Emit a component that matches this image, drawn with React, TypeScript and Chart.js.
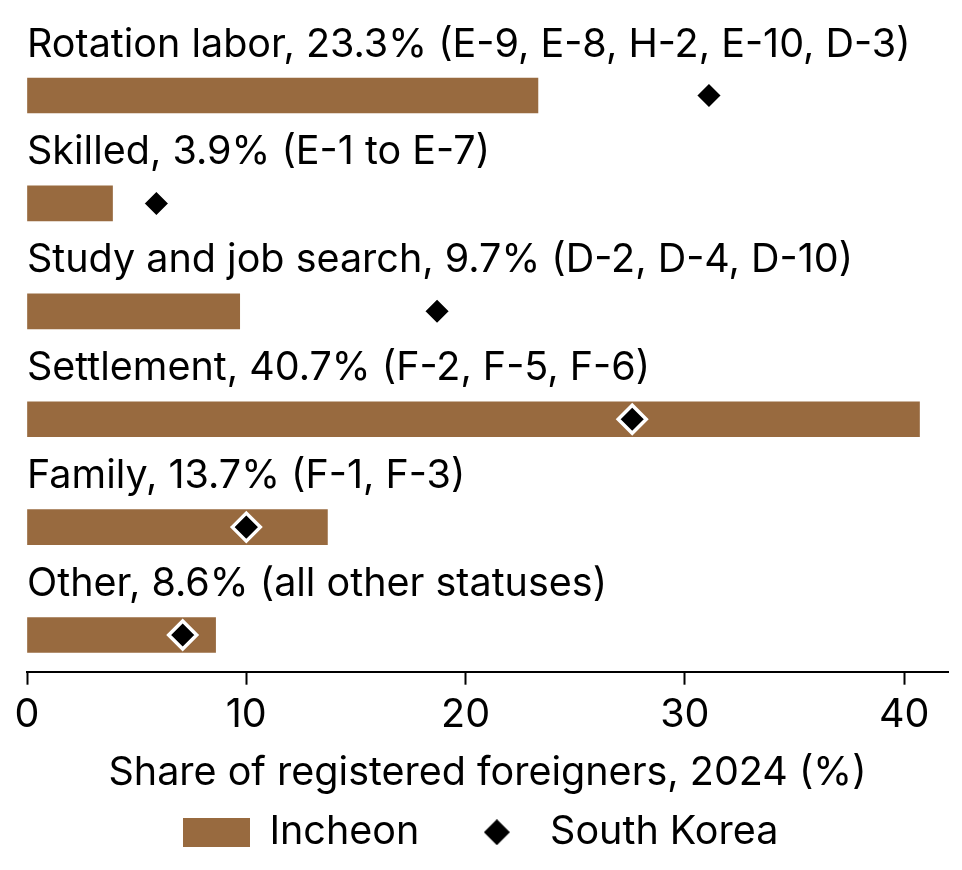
import { useEffect, useRef } from "react"
import { Chart, registerables, type ChartConfiguration } from "chart.js"

Chart.register(...registerables)

const categories = ["Rotation labor", "Skilled", "Study and job search", "Settlement", "Family", "Other"]
const visaCodes = ["E-9, E-8, H-2, E-10, D-3", "E-1 to E-7", "D-2, D-4, D-10", "F-2, F-5, F-6", "F-1, F-3", "all other statuses"]
const incheonShare = [23.3, 3.9, 9.7, 40.7, 13.7, 8.6]
const koreaShare = [31.1, 5.9, 18.7, 27.6, 10.0, 7.1]
const xTicks = [0, 10, 20, 30, 40]

const BROWN = "#986a3f"
const FONT = "Inter, 'Noto Sans', sans-serif"
const SIZE = 39.5

function makeSwatch(w: number, h: number, draw: (c: CanvasRenderingContext2D) => void) {
  const cv = document.createElement("canvas")
  cv.width = w
  cv.height = h
  const c = cv.getContext("2d")
  if (c) draw(c)
  return cv
}

export default function App() {
  const chartRef = useRef<HTMLCanvasElement>(null)
  const chartInstance = useRef<Chart | null>(null)

  useEffect(() => {
    if (!chartRef.current) return
    const ctx = chartRef.current.getContext("2d")
    if (!ctx) return

    if (chartInstance.current) {
      chartInstance.current.destroy()
    }

    const barSwatch = makeSwatch(67, 29, (c) => {
      c.fillStyle = BROWN
      c.fillRect(0, 0, 67, 29)
    })
    const diamondSwatch = makeSwatch(26, 26, (c) => {
      c.fillStyle = "#000"
      c.beginPath()
      c.moveTo(13, 0)
      c.lineTo(26, 13)
      c.lineTo(13, 26)
      c.lineTo(0, 13)
      c.closePath()
      c.fill()
    })

    // category labels written above each bar
    const barLabels = {
      id: "barLabels",
      afterDatasetsDraw(chart: Chart) {
        const { ctx: c, chartArea, scales } = chart
        c.save()
        c.font = `${SIZE}px ${FONT}`
        c.fillStyle = "#000"
        c.textBaseline = "alphabetic"
        c.textAlign = "left"
        categories.forEach((cat, i) => {
          const y = scales.y.getPixelForValue(i)
          c.fillText(`${cat}, ${incheonShare[i]}% (${visaCodes[i]})`, chartArea.left, y - 39)
        })
        c.restore()
      },
    }

    const config: ChartConfiguration = {
      type: "bar",
      data: {
        datasets: [
          {
            type: "bar",
            label: "Incheon",
            data: incheonShare.map((v, i) => ({ x: v, y: i })),
            backgroundColor: BROWN,
            barThickness: 35,
            order: 2,
          },
          {
            type: "scatter",
            label: "South Korea",
            data: koreaShare.map((v, i) => ({ x: v, y: i })),
            pointStyle: "rectRot",
            pointRadius: 14,
            pointBackgroundColor: "#000",
            pointBorderColor: "#fff",
            pointBorderWidth: 3.5,
            order: 1,
          },
        ],
      } as any,
      options: {
        indexAxis: "y",
        animation: false,
        responsive: true,
        maintainAspectRatio: false,
        layout: { autoPadding: false, padding: { top: 20, left: 13, right: 14, bottom: 8 } },
        scales: {
          y: {
            type: "linear",
            display: true,
            reverse: true,
            offset: false,
            min: -0.7,
            max: 5.34,
            ticks: { display: false },
            grid: { display: false },
            border: { display: false },
            afterFit: (scale: any) => {
              scale.width = 14
            },
          },
          x: {
            type: "linear",
            min: 0,
            max: 42,
            afterBuildTicks: (scale: any) => {
              scale.ticks = xTicks.map((v) => ({ value: v }))
            },
            afterFit: (scale: any) => {
              scale.paddingLeft = 0
              scale.paddingRight = 0
            },
            grid: {
              drawOnChartArea: false,
              drawTicks: true,
              tickLength: 13,
              tickWidth: 2,
              tickColor: "#000",
            },
            border: { display: true, color: "#000", width: 2 },
            ticks: {
              color: "#000",
              font: { family: FONT, size: SIZE },
              padding: 7,
              maxRotation: 0,
            },
            title: {
              display: true,
              text: "Share of registered foreigners, 2024 (%)",
              color: "#000",
              font: { family: FONT, size: SIZE },
              padding: { top: 3, bottom: -28 },
            },
          },
        },
        plugins: {
          tooltip: { enabled: false },
          legend: {
            position: "bottom",
            labels: {
              color: "#000",
              font: { family: FONT, size: SIZE },
              usePointStyle: true,
              pointStyleWidth: 67,
              boxHeight: 29,
              padding: 44,
              sort: (a: any, b: any) => a.datasetIndex - b.datasetIndex,
              generateLabels: (chart: Chart) => {
                const items = Chart.defaults.plugins.legend.labels.generateLabels(chart)
                return items.map((item) => ({
                  ...item,
                  pointStyle: item.datasetIndex === 0 ? barSwatch : diamondSwatch,
                }))
              },
            },
          },
        },
      },
      plugins: [barLabels],
    }

    chartInstance.current = new Chart(ctx, config)

    return () => {
      if (chartInstance.current) {
        chartInstance.current.destroy()
      }
    }
  }, [])

  return (
    <div style={{ position: "fixed", left: 0, top: 0, width: 962, height: 870, background: "#fff" }}>
      <canvas ref={chartRef} />
    </div>
  )
}
